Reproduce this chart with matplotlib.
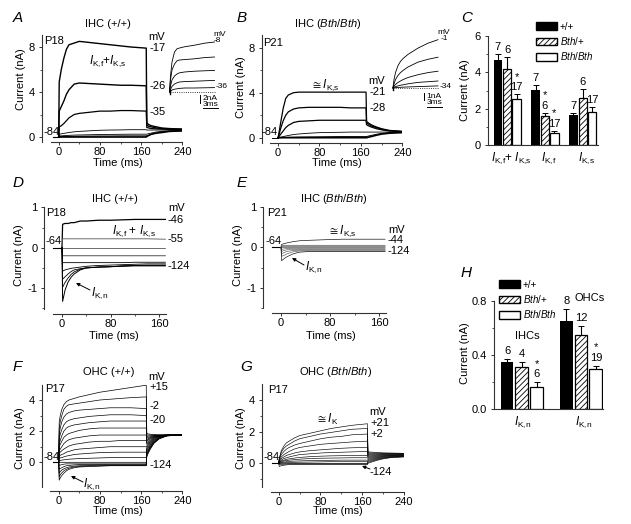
import matplotlib
matplotlib.use("Agg")
import matplotlib.pyplot as plt
from matplotlib.patches import FancyArrowPatch, Patch

W, H = 631, 524

plt.rcParams["font.family"] = ["Liberation Sans", "DejaVu Sans"]
plt.rcParams["mathtext.fontset"] = "custom"
plt.rcParams["mathtext.rm"] = "Liberation Sans"
plt.rcParams["mathtext.it"] = "Liberation Sans:italic"
plt.rcParams["mathtext.bf"] = "Liberation Sans:bold"
plt.rcParams["hatch.linewidth"] = 0.6

IKF = r"$\mathit{I}_{\mathrm{K{,}f}}$"
IKS = r"$\mathit{I}_{\mathrm{K{,}s}}$"
IKN = r"$\mathit{I}_{\mathrm{K{,}n}}$"
BTH = r"$\mathit{Bth}$"

# Panel A, IHC (+/+)
A_ON = [1, 5, 10, 15, 20, 30, 40, 60, 80, 100, 120, 140, 170]
A_OFF = [171, 175, 180, 190, 200, 215, 240]
A_TRACES = [
    [4.9, 6.0, 7.0, 7.8, 8.2, 8.35, 8.5, 8.4, 8.3, 8.2, 8.1, 8.0, 7.9],
    [2.3, 2.7, 3.2, 3.8, 4.2, 4.7, 4.8, 4.75, 4.7, 4.65, 4.6, 4.6, 4.55],
    [0.9, 1.0, 1.2, 1.45, 1.7, 2.0, 2.1, 2.2, 2.3, 2.3, 2.35, 2.35, 2.3],
    [0.25, 0.28, 0.32, 0.36, 0.4, 0.46, 0.5, 0.55, 0.6, 0.62, 0.63, 0.65, 0.65],
    [0.1, 0.1, 0.12, 0.13, 0.15, 0.17, 0.18, 0.2, 0.22, 0.23, 0.24, 0.25, 0.25],
    [0.03, 0.03, 0.04, 0.05, 0.05, 0.06, 0.07, 0.08, 0.09, 0.09, 0.1, 0.1, 0.1],
    [0, 0, 0, 0, 0, 0, 0, 0, 0, 0, 0, 0, 0],
]
A_TAILS = [
    [1.25, 1.1, 1.0, 0.9, 0.8, 0.75, 0.7],
    [1.05, 0.95, 0.9, 0.8, 0.75, 0.7, 0.7],
    [0.85, 0.8, 0.75, 0.72, 0.7, 0.68, 0.65],
    [0.62, 0.62, 0.62, 0.62, 0.62, 0.62, 0.62],
    [0.25, 0.3, 0.35, 0.45, 0.5, 0.55, 0.6],
    [0.1, 0.15, 0.25, 0.35, 0.45, 0.5, 0.55],
    [0.05, 0.15, 0.25, 0.35, 0.4, 0.5, 0.55],
]
A_IN_T = [0, 0.2, 0.5, 1, 1.5, 2, 3, 5, 7, 9]
A_IN = [
    [0, 4, 7.5, 10, 10.8, 11, 11.3, 11.7, 12.2, 12.5],
    [0, 3, 5.5, 7, 7.8, 8, 8.1, 8.3, 8.6, 8.75],
    [0, 1.5, 3, 4, 4.5, 4.8, 5, 5.2, 5.3, 5.4],
    [0, 0.6, 1.4, 2, 2.3, 2.5, 2.6, 2.7, 2.8, 2.9],
    [0, 0.2, 0.5, 0.7, 0.8, 0.9, 1, 1, 1.05, 1.1],
]

# Panel B, IHC (Bth/Bth)
B_ON = [1, 5, 10, 15, 20, 30, 40, 60, 80, 100, 120, 140, 170]
B_OFF = [171, 175, 180, 190, 200, 215, 240]
B_TRACES = [
    [0.2, 1.3, 2.6, 3.5, 3.8, 4.0, 4.05, 4.05, 4.05, 4.05, 4.05, 4.05, 4.05],
    [0.1, 0.8, 1.5, 2.0, 2.3, 2.55, 2.65, 2.7, 2.7, 2.7, 2.7, 2.65, 2.65],
    [0.05, 0.3, 0.6, 0.9, 1.1, 1.35, 1.45, 1.5, 1.55, 1.55, 1.55, 1.55, 1.55],
    [0, 0.05, 0.1, 0.15, 0.2, 0.28, 0.33, 0.4, 0.45, 0.47, 0.48, 0.5, 0.5],
    [0, 0, 0.02, 0.03, 0.04, 0.05, 0.06, 0.07, 0.08, 0.09, 0.1, 0.1, 0.1],
    [0, 0, 0, 0, 0, 0, 0, 0, 0, 0, 0, 0, 0],
]
B_TAILS = [
    [1.45, 1.3, 1.15, 0.95, 0.8, 0.65, 0.55],
    [1.3, 1.2, 1.05, 0.9, 0.75, 0.62, 0.55],
    [1.15, 1.05, 0.95, 0.8, 0.7, 0.6, 0.55],
    [0.5, 0.5, 0.5, 0.5, 0.5, 0.5, 0.5],
    [0.1, 0.15, 0.2, 0.3, 0.38, 0.45, 0.48],
    [0, 0.05, 0.1, 0.22, 0.32, 0.4, 0.45],
]
B_IN_T = [0, 0.2, 0.5, 1, 1.5, 2, 3, 5, 7, 9]
B_IN = [
    [0, 1.2, 2.2, 3.2, 3.8, 4.2, 4.8, 5.7, 6.4, 6.9],
    [0, 0.6, 1.2, 1.8, 2.2, 2.5, 3.0, 3.7, 4.1, 4.4],
    [0, 0.3, 0.5, 0.8, 1.0, 1.2, 1.5, 1.9, 2.2, 2.4],
    [0, 0.1, 0.2, 0.3, 0.4, 0.45, 0.6, 0.8, 0.9, 1.0],
    [0, 0.02, 0.05, 0.08, 0.1, 0.12, 0.15, 0.2, 0.25, 0.3],
]

# Panel C, bar summary
C_POS = [0, 1, 2, 4, 5, 6, 8, 9, 10]
C_VALUES = [4.7, 4.2, 2.55, 3.05, 1.6, 0.7, 1.65, 2.6, 1.85]
C_ERRORS = [0.3, 0.65, 0.25, 0.25, 0.2, 0.1, 0.15, 0.5, 0.25]
C_N = ["7", "6", "17", "7", "6", "17", "7", "6", "17"]
C_STAR = [False, False, True, False, True, True, False, False, False]
C_LABELS = [IKF + "+ " + IKS, IKF, IKS]

# Panel D, IHC (+/+) hyperpolarised steps
D_ON = [1, 5, 10, 15, 20, 30, 40, 60, 80, 100, 120, 140, 170]
D_TRACES = [
    [0.58, 0.6, 0.6, 0.62, 0.62, 0.66, 0.66, 0.68, 0.68, 0.69, 0.7, 0.7, 0.7],
    [0.22, 0.22, 0.22, 0.22, 0.22, 0.22, 0.22, 0.22, 0.22, 0.22, 0.22, 0.22, 0.21],
    [-0.02, -0.02, -0.02, -0.02, -0.02, -0.02, -0.02, -0.02, -0.02, -0.02, -0.02, -0.02, -0.02],
    [-0.2, -0.2, -0.2, -0.2, -0.2, -0.2, -0.2, -0.2, -0.2, -0.2, -0.2, -0.2, -0.2],
    [-0.37, -0.37, -0.37, -0.37, -0.37, -0.37, -0.37, -0.37, -0.37, -0.37, -0.36, -0.36, -0.36],
    [-0.58, -0.55, -0.53, -0.51, -0.5, -0.48, -0.46, -0.44, -0.43, -0.42, -0.41, -0.4, -0.4],
    [-0.78, -0.72, -0.65, -0.59, -0.55, -0.52, -0.5, -0.48, -0.47, -0.45, -0.44, -0.43, -0.43],
    [-0.98, -0.86, -0.75, -0.66, -0.6, -0.53, -0.5, -0.48, -0.47, -0.45, -0.44, -0.44, -0.44],
    [-1.33, -1.05, -0.85, -0.73, -0.65, -0.55, -0.5, -0.48, -0.47, -0.46, -0.45, -0.45, -0.45],
]

# Panel E, IHC (Bth/Bth) hyperpolarised steps
E_ON = [1, 5, 10, 20, 30, 40, 60, 80, 100, 120, 140, 170]
E_TRACES = [
    [0.07, 0.09, 0.11, 0.14, 0.16, 0.17, 0.18, 0.19, 0.2, 0.2, 0.2, 0.2],
    [0.05, 0.05, 0.05, 0.05, 0.05, 0.05, 0.05, 0.05, 0.05, 0.05, 0.05, 0.05],
    [0.03, 0.03, 0.03, 0.03, 0.03, 0.03, 0.03, 0.03, 0.03, 0.03, 0.03, 0.03],
    [0.01, 0.01, 0.01, 0.01, 0.01, 0.01, 0.01, 0.01, 0.01, 0.01, 0.01, 0.01],
    [-0.01, -0.01, -0.01, -0.01, -0.01, -0.01, -0.01, -0.01, -0.01, -0.01, -0.01, -0.01],
    [-0.05, -0.04, -0.03, -0.03, -0.03, -0.03, -0.03, -0.03, -0.03, -0.03, -0.03, -0.03],
    [-0.1, -0.08, -0.06, -0.05, -0.05, -0.05, -0.05, -0.05, -0.05, -0.05, -0.05, -0.05],
    [-0.16, -0.13, -0.1, -0.08, -0.07, -0.07, -0.07, -0.07, -0.07, -0.07, -0.07, -0.07],
    [-0.22, -0.2, -0.16, -0.11, -0.09, -0.09, -0.09, -0.09, -0.09, -0.09, -0.09, -0.09],
    [-0.33, -0.28, -0.23, -0.16, -0.12, -0.11, -0.1, -0.1, -0.1, -0.1, -0.1, -0.1],
]

# Panel F, OHC (+/+)
F_ON = [1, 3, 6, 10, 15, 20, 30, 40, 60, 80, 100, 120, 140, 170]
F_OFF = [171, 174, 178, 185, 195, 210, 240]
F_TRACES = [
    [2.6, 3.0, 3.4, 3.7, 3.9, 4.0, 4.1, 4.2, 4.35, 4.5, 4.6, 4.7, 4.8, 4.95],
    [2.2, 2.6, 3.0, 3.4, 3.6, 3.7, 3.75, 3.8, 3.9, 4.0, 4.05, 4.1, 4.15, 4.2],
    [1.8, 2.2, 2.6, 2.9, 3.1, 3.2, 3.3, 3.35, 3.4, 3.45, 3.5, 3.5, 3.5, 3.45],
    [1.5, 1.8, 2.1, 2.4, 2.6, 2.7, 2.8, 2.85, 2.95, 3.0, 3.05, 3.05, 3.05, 3.0],
    [1.2, 1.4, 1.7, 2.0, 2.2, 2.3, 2.4, 2.45, 2.55, 2.6, 2.65, 2.65, 2.65, 2.65],
    [1.0, 1.15, 1.35, 1.6, 1.75, 1.85, 1.95, 2.05, 2.15, 2.2, 2.2, 2.2, 2.2, 2.2],
    [0.75, 0.85, 1.0, 1.2, 1.35, 1.45, 1.55, 1.6, 1.7, 1.75, 1.75, 1.75, 1.75, 1.75],
    [0.6, 0.65, 0.75, 0.85, 0.95, 1.05, 1.15, 1.2, 1.3, 1.35, 1.35, 1.4, 1.4, 1.4],
    [0.4, 0.45, 0.5, 0.55, 0.65, 0.7, 0.8, 0.85, 0.9, 0.95, 1.0, 1.0, 1.0, 1.0],
    [0.25, 0.28, 0.3, 0.35, 0.4, 0.43, 0.5, 0.53, 0.58, 0.62, 0.64, 0.65, 0.65, 0.65],
    [0.1, 0.12, 0.14, 0.16, 0.18, 0.2, 0.22, 0.24, 0.26, 0.28, 0.3, 0.3, 0.3, 0.3],
    [0, 0, 0, 0, 0, 0, 0, 0, 0, 0, 0, 0, 0, 0],
    [-0.2, -0.18, -0.15, -0.12, -0.1, -0.1, -0.1, -0.1, -0.1, -0.1, -0.1, -0.1, -0.1, -0.1],
    [-0.45, -0.4, -0.35, -0.28, -0.22, -0.2, -0.17, -0.15, -0.15, -0.15, -0.15, -0.15, -0.15, -0.15],
    [-0.7, -0.6, -0.5, -0.42, -0.35, -0.3, -0.25, -0.22, -0.2, -0.18, -0.18, -0.18, -0.18, -0.18],
    [-0.95, -0.8, -0.68, -0.55, -0.45, -0.38, -0.3, -0.27, -0.23, -0.22, -0.2, -0.2, -0.2, -0.2],
    [-1.15, -1.0, -0.85, -0.7, -0.55, -0.45, -0.35, -0.3, -0.27, -0.25, -0.22, -0.22, -0.22, -0.22],
]
F_TAILS = [
    [1.85, 1.82, 1.8, 1.78, 1.76, 1.75, 1.75],
    [1.75, 1.75, 1.75, 1.75, 1.75, 1.75, 1.75],
    [1.65, 1.68, 1.7, 1.72, 1.74, 1.75, 1.75],
    [1.55, 1.6, 1.65, 1.7, 1.73, 1.75, 1.75],
    [1.45, 1.52, 1.6, 1.67, 1.72, 1.75, 1.75],
    [1.35, 1.45, 1.55, 1.65, 1.7, 1.75, 1.75],
    [1.25, 1.35, 1.5, 1.62, 1.7, 1.75, 1.75],
    [1.15, 1.27, 1.42, 1.58, 1.68, 1.74, 1.75],
    [1.05, 1.18, 1.35, 1.55, 1.67, 1.74, 1.75],
    [0.95, 1.1, 1.28, 1.5, 1.65, 1.73, 1.75],
    [0.85, 1.0, 1.2, 1.45, 1.63, 1.72, 1.75],
    [0.75, 0.92, 1.12, 1.4, 1.6, 1.72, 1.75],
    [0.65, 0.82, 1.05, 1.35, 1.58, 1.71, 1.75],
    [0.55, 0.75, 1.0, 1.3, 1.55, 1.7, 1.75],
    [0.5, 0.7, 0.95, 1.27, 1.53, 1.7, 1.75],
    [0.42, 0.65, 0.9, 1.25, 1.52, 1.7, 1.75],
    [0.35, 0.6, 0.85, 1.22, 1.5, 1.7, 1.75],
]

# Panel G, OHC (Bth/Bth)
G_ON = [1, 5, 10, 15, 20, 30, 40, 60, 80, 100, 120, 140, 170]
G_OFF = [171, 180, 190, 200, 215, 240]
G_TRACES = [
    [0.3, 0.8, 1.1, 1.3, 1.4, 1.6, 1.75, 1.9, 2.05, 2.2, 2.3, 2.4, 2.5],
    [0.3, 0.7, 0.95, 1.1, 1.2, 1.4, 1.55, 1.7, 1.85, 1.95, 2.05, 2.15, 2.2],
    [0.25, 0.55, 0.75, 0.9, 1.0, 1.15, 1.25, 1.4, 1.55, 1.65, 1.7, 1.8, 1.85],
    [0.2, 0.4, 0.55, 0.65, 0.75, 0.9, 1.0, 1.1, 1.2, 1.25, 1.3, 1.35, 1.4],
    [0.15, 0.3, 0.4, 0.5, 0.55, 0.65, 0.72, 0.8, 0.85, 0.9, 0.95, 0.98, 1.0],
    [0.1, 0.2, 0.3, 0.35, 0.4, 0.48, 0.55, 0.6, 0.65, 0.68, 0.7, 0.72, 0.75],
    [0.08, 0.15, 0.2, 0.25, 0.28, 0.33, 0.37, 0.42, 0.45, 0.47, 0.48, 0.5, 0.5],
    [0.05, 0.1, 0.15, 0.17, 0.2, 0.23, 0.26, 0.3, 0.32, 0.33, 0.34, 0.35, 0.35],
    [0.03, 0.06, 0.08, 0.1, 0.12, 0.14, 0.15, 0.17, 0.18, 0.19, 0.2, 0.2, 0.2],
    [0.01, 0.02, 0.03, 0.04, 0.05, 0.06, 0.07, 0.08, 0.09, 0.1, 0.1, 0.1, 0.1],
    [0, 0, 0, 0, 0, 0, 0, 0, 0, 0, 0, 0, 0],
    [-0.1, -0.08, -0.06, -0.05, -0.04, -0.04, -0.04, -0.04, -0.04, -0.04, -0.04, -0.04, -0.04],
    [-0.2, -0.15, -0.12, -0.1, -0.08, -0.08, -0.08, -0.08, -0.08, -0.08, -0.08, -0.08, -0.08],
]
G_TAILS = [
    [0.72, 0.7, 0.68, 0.66, 0.65, 0.63],
    [0.66, 0.65, 0.64, 0.63, 0.62, 0.62],
    [0.6, 0.6, 0.6, 0.6, 0.6, 0.6],
    [0.54, 0.55, 0.56, 0.57, 0.58, 0.58],
    [0.48, 0.5, 0.52, 0.54, 0.56, 0.56],
    [0.42, 0.45, 0.48, 0.5, 0.52, 0.54],
    [0.36, 0.4, 0.44, 0.47, 0.5, 0.52],
    [0.3, 0.35, 0.4, 0.44, 0.48, 0.5],
    [0.24, 0.3, 0.36, 0.41, 0.45, 0.48],
    [0.18, 0.25, 0.32, 0.38, 0.42, 0.46],
    [0.12, 0.2, 0.28, 0.34, 0.4, 0.44],
    [0.06, 0.15, 0.24, 0.31, 0.38, 0.42],
    [0, 0.1, 0.2, 0.28, 0.36, 0.4],
]

# Panel H, bar summary
H_POS = [0, 1, 2, 4, 5, 6]
H_VALUES = [0.35, 0.31, 0.165, 0.65, 0.545, 0.295]
H_ERRORS = [0.02, 0.04, 0.035, 0.09, 0.065, 0.025]
H_N = ["6", "4", "6", "8", "12", "19"]
H_STAR = [False, False, True, False, False, True]

fig = plt.figure(figsize=(W / 100, H / 100), dpi=100)


# pixel position on the page -> figure fraction
def T(x, y, s, ha="left", va="center", size=8, **kw):
    return fig.text(x / W, 1 - y / H, s, ha=ha, va=va, fontsize=size, **kw)


def arrow(x0, y0, x1, y1):
    fig.add_artist(FancyArrowPatch((x0 / W, 1 - y0 / H), (x1 / W, 1 - y1 / H),
                                   transform=fig.transFigure, arrowstyle="-|>",
                                   mutation_scale=5, lw=0.7, color="k",
                                   shrinkA=0, shrinkB=0))


# axes whose limits follow two calibration points on each axis
def panel(left, right, top, bottom, xcal, ycal):
    ax = fig.add_axes([left / W, 1 - bottom / H, (right - left) / W, (bottom - top) / H])
    (v0, p0), (v1, p1) = xcal
    ax.set_xlim(v0 + (left - p0) * (v1 - v0) / (p1 - p0), v0 + (right - p0) * (v1 - v0) / (p1 - p0))
    (v0, p0), (v1, p1) = ycal
    ax.set_ylim(v0 + (bottom - p0) * (v1 - v0) / (p1 - p0), v0 + (top - p0) * (v1 - v0) / (p1 - p0))
    ax.patch.set_alpha(0)
    ax.spines["top"].set_visible(False)
    ax.spines["right"].set_visible(False)
    for s in ["left", "bottom"]:
        ax.spines[s].set_linewidth(0.8)
        ax.spines[s].set_color("#333333")
    ax.tick_params(which="major", length=2.5, width=0.7, labelsize=8, color="#333333")
    ax.tick_params(axis="x", which="major", pad=1)
    ax.tick_params(axis="y", which="major", pad=2.5)
    ax.tick_params(which="minor", length=1.5, width=0.6, color="#333333")
    return ax


def finish(ax, xticks, xminor, yticks, ylabels, yminor, xstart, ystop, xlab, ylab):
    ax.set_xticks(xticks)
    ax.set_xticks(xminor, minor=True)
    ax.set_yticks(yticks)
    ax.set_yticklabels(ylabels)
    ax.set_yticks(yminor, minor=True)
    inv = ax.transData.inverted()
    x0 = inv.transform((xstart, 0))[0]
    y0 = inv.transform((0, H - ystop))[1]
    ax.spines["bottom"].set_bounds(x0, ax.get_xlim()[1])
    ax.spines["left"].set_bounds(y0, ax.get_ylim()[1])
    ax.set_xlabel("Time (ms)", fontsize=8)
    ax.set_ylabel("Current (nA)", fontsize=8)
    pos = ax.get_position()
    ax.xaxis.set_label_coords((xlab[0] / W - pos.x0) / pos.width, ((1 - xlab[1] / H) - pos.y0) / pos.height)
    ax.yaxis.set_label_coords((ylab[0] / W - pos.x0) / pos.width, ((1 - ylab[1] / H) - pos.y0) / pos.height)
    ax.xaxis.label.set_verticalalignment("center")
    ax.yaxis.label.set_verticalalignment("center")


def traces(ax, t_on, rows, t_off=None, tails=None, base=0.0, lw=0.6, widths=None, colors=None):
    for i, row in enumerate(rows):
        x = [0] + list(t_on)
        y = [base] + list(row)
        if t_off is not None:
            x = x + list(t_off)
            y = y + list(tails[i])
        width = widths[i] if widths else lw
        c = colors[i] if colors else "k"
        ax.plot(x, y, color=c, lw=width, solid_joinstyle="round")


def inset(left, right, top, bottom, x0px, y0px, ms_px, na_px, t, rows, bar_na, bar_x, bar_y, ms_bar, ms_bar_x, ms_bar_y):
    ax = panel(left, right, top, bottom, ((0, x0px), (1, x0px + ms_px)), ((0, y0px), (1, y0px - na_px)))
    ax.set_axis_off()
    for row in rows:
        ax.plot(t, row, color="k", lw=0.6)
    ax.plot([0, t[-1]], [0, 0], color="k", lw=0.6, ls=":")
    ax.plot([0, 0], [-2 / na_px, 2 / na_px], color="k", lw=1.0)
    # scale bars
    bx = (bar_x - x0px) / ms_px
    by = (y0px - bar_y) / na_px
    ax.plot([bx, bx], [by, by - bar_na], color="k", lw=0.7)
    mx = (ms_bar_x - x0px) / ms_px
    my = (y0px - ms_bar_y) / na_px
    ax.plot([mx, mx + ms_bar], [my, my], color="k", lw=0.7)
    return ax


def bars(ax, pos, vals, errs, ns, stars, width, lab_px, star_px, size=8):
    styles = [dict(color="k"), dict(facecolor="white", edgecolor="k", hatch="//////"),
              dict(facecolor="white", edgecolor="k")]
    for i, p in enumerate(pos):
        st = styles[i % 3]
        ax.bar(p, vals[i], width, linewidth=0.9, **st)
        ax.errorbar(p, vals[i], yerr=[[0], [errs[i]]], color="k", capsize=2, lw=0.8, capthick=0.7)
        top = vals[i] + errs[i]
        ax.annotate(ns[i], (p, top), xytext=(0, lab_px * 0.72), textcoords="offset points",
                    ha="center", va="center", fontsize=size)
        if stars[i]:
            ax.annotate("*", (p, top), xytext=(0, (lab_px + star_px) * 0.72), textcoords="offset points",
                        ha="center", va="center", fontsize=size)


def bar_legend(ax, x, y):
    handles = [Patch(color="k", ec="k"),
               Patch(facecolor="white", edgecolor="k", hatch="//////"),
               Patch(facecolor="white", edgecolor="k")]
    ax.legend(handles, ["+/+", BTH + "/+", BTH + "/" + BTH], loc="upper left",
              bbox_to_anchor=(x / W, 1 - y / H), bbox_transform=fig.transFigure,
              frameon=False, fontsize=7, borderpad=0, borderaxespad=0,
              handlelength=2.15, handleheight=0.85, labelspacing=0.35, handletextpad=0.3)


# A
ax = panel(42, 182.3, 35, 142, ((0, 58.7), (240, 182.3)), ((0, 137), (8, 47)))
ax.plot([-12, 0], [0, 0], color="k", lw=0.8)
traces(ax, A_ON, A_TRACES, A_OFF, A_TAILS, widths=[1.0, 1.0, 0.9, 0.6, 0.6, 0.7, 1.2])
finish(ax, [0, 80, 160, 240], [40, 120, 200], [0, 4, 8], ["0", "4", "8"], [2, 6], 51, 142, (118, 163), (21, 79))
inset(165, 222, 38, 112, 169.5, 92, 5, 4, A_IN_T, A_IN, 2, 200, 95, 3, 203, 108)
T(13, 18, "A", size=11, style="italic")
T(108, 24, "IHC (+/+)", ha="center")
T(44, 41, "P18")
T(157, 37, "mV", ha="center")
T(149, 48, "-17")
T(149, 86, "-26")
T(149, 112, "-35")
T(44, 132, "-84")
T(108, 61, IKF + "+" + IKS, ha="center", size=8.5)
T(213, 34, "mV", size=6)
T(214, 41, "-8", size=6)
T(216, 87, "-36", size=6)
T(203, 98, "2nA", size=6)
T(203, 104.5, "3ms", size=6)

# B
ax = panel(261.7, 402.3, 35, 143.3, ((0, 278), (240, 402.3)), ((0, 137.7), (8, 47.7)))
ax.plot([-12, 0], [0, 0], color="k", lw=0.7)
traces(ax, B_ON, B_TRACES, B_OFF, B_TAILS, widths=[0.9, 0.9, 0.9, 0.6, 0.7, 1.2])
finish(ax, [0, 80, 160, 240], [40, 120, 200], [0, 4, 8], ["0", "4", "8"], [2, 6], 270, 143, (337, 163), (241, 87))
inset(388, 447, 36, 112, 393, 88, 5, 7, B_IN_T, B_IN, 1, 424, 93, 3, 427, 107)
T(237, 18, "B", size=11, style="italic")
T(328, 24, "IHC (" + BTH + "/" + BTH + ")", ha="center")
T(263, 43, "P21")
T(377, 81, "mV", ha="center")
T(369, 92, "-21")
T(369, 108, "-28")
T(262, 132, "-84")
T(311, 85, r"$\cong\mathit{I}_{\mathrm{K{,}s}}$", size=8.5)
T(437, 33, "mV", size=6)
T(441, 39, "-1", size=6)
T(440, 86, "-34", size=6)
T(426, 96, "1nA", size=6)
T(427, 103, "3ms", size=6)

# C
ax = panel(488, 598, 36, 145.3, ((0, 497.7), (10, 592.3)), ((0, 145.3), (6, 36)))
bars(ax, C_POS, C_VALUES, C_ERRORS, C_N, C_STAR, 0.88, 7, 10.5)
ax.set_xticks([1.4, 5.4, 9.4])
ax.set_xticklabels(C_LABELS, fontsize=8.5)
ax.tick_params(axis="x", length=0, pad=4)
ax.set_yticks([0, 2, 4, 6])
ax.set_yticks([1, 3, 5], minor=True)
ax.set_ylabel("Current (nA)", fontsize=8)
p = ax.get_position()
ax.yaxis.set_label_coords((465 / W - p.x0) / p.width, ((1 - 90 / H) - p.y0) / p.height)
ax.yaxis.label.set_verticalalignment("center")
bar_legend(ax, 536, 21.5)
T(461, 18, "C", size=11, style="italic")

# D
ax = panel(44.3, 166, 207.3, 314, ((0, 62), (160, 159.3)), ((0, 247.7), (1, 207.3)))
ax.plot([-14, 0], [0, 0], color="k", lw=0.8)
traces(ax, D_ON, D_TRACES, widths=[0.9, 0.6, 0.6, 0.6, 0.6, 0.6, 0.6, 0.6, 0.7],
       colors=["k", "#555555", "#555555", "#333333", "k", "k", "k", "k", "k"])
finish(ax, [0, 80, 160], [40, 120], [-1, 0, 1], ["-1", "0", "1"], [-1.5, -0.5, 0.5], 52.7, 309, (114, 336), (19, 255))
T(13, 183, "D", size=11, style="italic")
T(115, 199, "IHC (+/+)", ha="center")
T(46, 213, "P18")
T(45, 241, "-64")
T(177, 208, "mV", ha="center")
T(168, 220, "-46")
T(168, 239, "-55")
T(168, 266, "-124")
T(112, 231, IKF + " + " + IKS, size=8.5)
T(91, 293, IKN, size=8.5)
arrow(90, 290, 76, 283)

# E
ax = panel(263.3, 386, 206.7, 313.3, ((0, 281), (160, 379)), ((0, 247.3), (1, 206.7)))
ax.plot([-14, 0], [0, 0], color="k", lw=0.8)
traces(ax, E_ON, E_TRACES, lw=0.45, colors=["k"] + ["#555555"] * 8 + ["k"])
finish(ax, [0, 80, 160], [40, 120], [-1, 0, 1], ["-1", "0", "1"], [-1.5, -0.5, 0.5], 272.3, 308, (331, 336), (238, 255))
T(237, 183, "E", size=11, style="italic")
T(334, 199, "IHC (" + BTH + "/" + BTH + ")", ha="center")
T(267, 213, "P21")
T(265, 241, "-64")
T(397, 230, "mV", ha="center")
T(388, 240, "-44")
T(388, 251, "-124")
T(328, 231, r"$\cong\mathit{I}_{\mathrm{K{,}s}}$", size=8.5)
T(305, 267, IKN, size=8.5)
arrow(304, 265, 292, 258)

# F
ax = panel(41.7, 182.3, 385, 491, ((0, 58.7), (240, 182.3)), ((0, 462.3), (4, 400)))
ax.plot([-12, 0], [0, 0], color="k", lw=0.8)
traces(ax, F_ON, F_TRACES, F_OFF, F_TAILS, lw=0.5)
finish(ax, [0, 80, 160, 240], [40, 120, 200], [0, 2, 4], ["0", "2", "4"], [1, 3], 50, 486.7, (118, 511), (20, 438))
T(13, 367, "F", size=11, style="italic")
T(109, 372, "OHC (+/+)", ha="center")
T(45, 389, "P17")
T(157, 377, "mV", ha="center")
T(149, 387, "+15")
T(149, 406, "-2")
T(149, 420, "-20")
T(149, 465, "-124")
T(43, 457, "-84")
T(83, 484, IKN, size=8.5)
arrow(83, 482, 71, 476)

# G
ax = panel(261.7, 404, 384, 492, ((0, 278.7), (240, 404)), ((0, 463.3), (4, 400)))
ax.plot([-12, 0], [0, 0], color="k", lw=0.8)
traces(ax, G_ON, G_TRACES, G_OFF, G_TAILS, lw=0.45)
finish(ax, [0, 80, 160, 240], [40, 120, 200], [0, 2, 4], ["0", "2", "4"], [-1, 1, 3], 271, 486.7, (338, 511), (241, 438))
T(240, 367, "G", size=11, style="italic")
T(336, 372, "OHC (" + BTH + "/" + BTH + ")", ha="center")
T(268, 390, "P17")
T(378, 412, "mV", ha="center")
T(370, 423, "+21")
T(370, 434, "+2")
T(370, 472, "-124")
T(263, 457, "-84")
T(316, 419, r"$\cong\mathit{I}_{\mathrm{K}}$", size=8.5)
arrow(370, 469, 362, 466)

# H
ax = panel(494.3, 603, 300.7, 409.3, ((0, 507), (6, 595.8)), ((0, 409.3), (0.8, 300.7)))
bars(ax, H_POS, H_VALUES, H_ERRORS, H_N, H_STAR, 0.86, 8, 10.5)
ax.set_xticks([1.05, 5.15])
ax.set_xticklabels([IKN, IKN], fontsize=8.5)
ax.tick_params(axis="x", length=0, pad=4)
ax.set_yticks([0, 0.4, 0.8])
ax.set_yticklabels(["0.0", "0.4", "0.8"])
ax.set_yticks([0.2, 0.6], minor=True)
ax.set_ylabel("Current (nA)", fontsize=8)
p = ax.get_position()
ax.yaxis.set_label_coords((465 / W - p.x0) / p.width, ((1 - 353 / H) - p.y0) / p.height)
ax.yaxis.label.set_verticalalignment("center")
bar_legend(ax, 498.7, 279.5)
T(461, 273, "H", size=11, style="italic")
T(590, 298, "OHCs", ha="center")
T(527, 336, "IHCs", ha="center")

fig.savefig("out.png", dpi=100)
